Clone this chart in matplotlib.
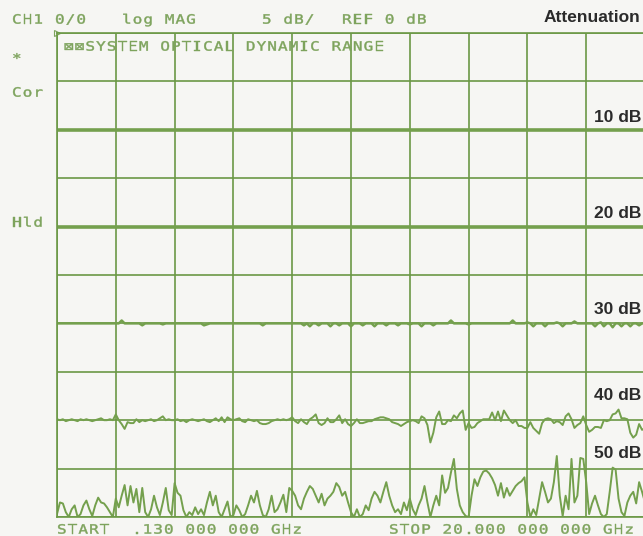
import numpy as np
import matplotlib
matplotlib.use('Agg')
import matplotlib.pyplot as plt
from matplotlib.textpath import TextPath
from matplotlib.patches import PathPatch
from matplotlib.font_manager import FontProperties
from matplotlib.transforms import Affine2D

# analyzer stimulus
START_GHZ = 0.13
STOP_GHZ = 20.0
N_POINTS = 201

# attenuator settings (dB) and their label text
ATTEN_LABELS = ['10 dB', '20 dB', '30 dB', '40 dB', '50 dB']
ATTEN_LABEL_Y = [117, 213, 309, 396, 454]   # pixel rows of labels

# flat traces only need start/stop
TRACE_10DB = [-10.0, -10.0]
TRACE_20DB = [-20.0, -20.0]

# 30 dB trace, 20 points per division
TRACE_30DB = [
    -30.0, -30.0, -30.0, -30.0, -30.0, -30.0, -30.0, -30.0, -30.0, -30.0,
    -30.0, -30.0, -30.0, -30.0, -30.0, -30.0, -30.0, -30.0, -30.0, -30.0,
    -30.0, -30.0, -29.7, -30.0, -30.0, -30.0, -30.0, -30.0, -30.0, -30.2,
    -30.0, -30.0, -30.0, -30.0, -30.0, -30.0, -30.1, -30.0, -30.0, -30.0,
    -30.0, -30.0, -30.0, -30.0, -30.0, -30.0, -30.0, -30.0, -30.0, -30.0,
    -30.2, -30.1, -30.0, -30.0, -30.0, -30.0, -30.0, -30.0, -30.0, -30.0,
    -30.0, -30.0, -30.0, -30.0, -30.0, -30.0, -30.0, -30.0, -30.0, -30.0,
    -30.2, -30.0, -30.0, -30.0, -30.0, -30.0, -30.0, -30.0, -30.0, -30.0,
    -30.0, -30.0, -30.0, -30.0, -30.2, -30.0, -30.3, -30.0, -30.0, -30.2,
    -30.0, -30.0, -30.0, -30.3, -30.0, -30.0, -30.2, -30.0, -30.0, -30.0,
    -30.3, -30.0, -30.0, -30.0, -30.2, -30.0, -30.0, -30.0, -30.3, -30.0,
    -30.0, -30.0, -30.2, -30.0, -30.0, -30.0, -30.2, -30.0, -30.0, -30.0,
    -30.1, -30.0, -30.0, -30.0, -30.3, -30.0, -30.0, -30.0, -30.2, -30.0,
    -30.0, -30.0, -30.0, -30.0, -29.7, -30.0, -30.0, -30.0, -30.0, -30.0,
    -30.1, -30.0, -30.0, -30.0, -30.0, -30.0, -30.0, -30.0, -30.0, -30.0,
    -30.0, -30.0, -30.0, -30.0, -30.0, -29.7, -30.0, -30.0, -30.0, -30.0,
    -29.9, -30.0, -30.3, -30.0, -30.0, -30.0, -30.3, -30.0, -30.0, -30.0,
    -29.9, -30.0, -30.3, -30.0, -30.0, -30.0, -29.8, -30.0, -30.0, -30.0,
    -30.0, -30.0, -30.0, -30.3, -30.0, -29.9, -30.3, -30.0, -30.0, -30.4,
    -30.0, -30.0, -30.3, -30.0, -30.0, -30.3, -30.0, -30.0, -30.2, -30.0,
    -30.0,
]

# 40 dB trace
TRACE_40DB = [
    -39.9, -40.0, -39.9, -40.1, -40.0, -39.9, -40.0, -40.1, -39.9, -40.0,
    -39.9, -40.0, -40.1, -40.0, -39.9, -39.8, -40.0, -40.0, -39.9, -40.0,
    -39.4, -40.0, -40.4, -40.9, -40.2, -40.3, -40.3, -39.9, -40.2, -40.0,
    -40.1, -40.0, -39.9, -40.1, -40.0, -39.8, -39.6, -40.0, -39.9, -40.0,
    -40.0, -39.9, -40.1, -40.0, -40.2, -40.0, -39.9, -40.0, -40.1, -40.0,
    -39.9, -40.1, -40.2, -40.0, -39.8, -40.1, -39.7, -40.2, -39.7, -39.9,
    -40.0, -39.9, -39.8, -40.1, -40.2, -39.9, -40.0, -40.1, -40.0, -40.3,
    -40.4, -40.4, -40.3, -40.1, -40.0, -39.9, -40.0, -39.9, -40.0, -39.9,
    -39.7, -40.1, -40.3, -39.9, -40.2, -40.4, -39.9, -39.7, -39.4, -40.3,
    -40.5, -40.3, -39.8, -40.2, -40.2, -39.9, -39.5, -40.3, -39.9, -40.4,
    -40.6, -40.3, -39.9, -40.3, -40.3, -40.2, -40.1, -40.1, -39.9, -39.8,
    -39.7, -39.7, -39.8, -39.9, -40.2, -40.3, -40.4, -40.6, -40.4, -40.2,
    -40.1, -40.0, -40.1, -40.3, -39.6, -39.8, -40.5, -42.3, -41.3, -39.7,
    -39.1, -40.4, -40.4, -40.0, -40.1, -39.5, -39.8, -39.3, -39.0, -41.0,
    -40.3, -40.8, -40.7, -40.3, -40.1, -39.9, -39.9, -39.9, -39.2, -40.0,
    -39.1, -40.1, -39.0, -39.5, -40.0, -40.3, -40.0, -40.6, -40.6, -40.8,
    -40.8, -40.2, -40.8, -41.1, -41.4, -40.3, -39.9, -39.8, -39.9, -40.3,
    -40.1, -40.2, -40.5, -39.6, -39.3, -39.9, -40.8, -40.5, -40.3, -39.6,
    -40.5, -41.2, -41.0, -40.7, -40.7, -40.8, -40.0, -40.1, -40.0, -39.4,
    -39.3, -38.9, -39.8, -39.8, -39.9, -41.3, -41.8, -41.5, -40.4, -41.0,
    -40.8,
]

# 50 dB trace (floor clipped at bottom of screen)
TRACE_50DB = [
    -49.7, -48.5, -48.6, -49.5, -50.0, -49.2, -48.8, -50.0, -49.7, -48.8,
    -48.3, -49.2, -49.9, -48.8, -48.0, -48.5, -48.6, -49.0, -49.5, -50.0,
    -48.1, -49.0, -47.8, -46.7, -48.8, -46.8, -48.5, -47.1, -49.5, -47.0,
    -49.5, -50.0, -49.2, -47.8, -49.0, -49.8, -48.5, -47.0, -49.3, -49.8,
    -46.5, -47.5, -47.8, -49.3, -50.0, -49.5, -49.8, -49.0, -49.7, -49.2,
    -49.8, -48.5, -47.4, -48.8, -47.8, -49.5, -50.0, -49.2, -48.4, -50.0,
    -49.8, -48.8, -49.3, -50.0, -49.7, -48.8, -47.8, -48.5, -47.3, -48.8,
    -49.8, -50.0, -49.2, -47.8, -49.5, -49.2, -48.5, -47.7, -49.5, -47.0,
    -47.3, -47.8, -48.8, -49.2, -48.1, -47.4, -46.8, -47.1, -47.8, -48.5,
    -47.6, -48.8, -48.1, -47.8, -47.4, -46.5, -46.9, -47.8, -47.4, -48.5,
    -49.5, -50.0, -49.2, -50.0, -49.7, -48.8, -49.3, -48.1, -47.4, -47.8,
    -48.5, -47.4, -46.4, -47.8, -48.8, -49.5, -49.2, -49.7, -48.5, -49.3,
    -48.1, -49.2, -49.8, -48.8, -48.1, -46.8, -48.5, -50.0, -48.8, -47.8,
    -48.8, -45.7, -47.5, -47.0, -45.4, -44.0, -47.1, -48.8, -49.5, -49.9,
    -50.0, -47.8, -46.1, -46.8, -45.9, -45.3, -45.2, -45.5, -46.0, -46.7,
    -47.8, -46.5, -48.0, -47.0, -47.8, -47.3, -46.8, -46.5, -46.3, -45.9,
    -48.5, -50.0, -49.2, -49.8, -48.1, -46.4, -47.4, -48.5, -48.1, -46.4,
    -43.7, -47.8, -49.9, -47.8, -49.2, -44.0, -48.5, -47.8, -43.9, -44.0,
    -46.4, -49.7, -48.6, -47.8, -48.8, -49.7, -50.0, -49.7, -47.4, -44.9,
    -45.1, -48.1, -49.5, -49.9, -48.5, -47.8, -47.4, -48.6, -46.4, -47.4,
    -48.5,
]

# screen text
HEADER = [(12, 'CH1'), (55, '0/0'), (122, 'log MAG'), (262, '5 dB/'), (342, 'REF 0 dB')]
TITLE = '\u22a0\u22a0SYSTEM OPTICAL DYNAMIC RANGE'
STATUS = [(58, '*'), (92, 'Cor'), (222, 'Hld')]
FOOTER = [(57, 'START  .130 000 000 GHz'), (389, 'STOP 20.000 000 000 GHz')]

W, H = 643, 536
GRID_GREEN = '#6b9845'
TRACE_GREEN = '#74a04d'
TEXT_GREEN = '#7da35c'
BG = '#f6f6f3'
MONO = FontProperties(family=['DejaVu Sans Mono', 'DejaVu Sans'])

fig = plt.figure(figsize=(W / 100, H / 100), dpi=100, facecolor=BG)
ax = fig.add_axes([57 / W, (H - 517) / H, 588 / W, 484 / H], facecolor=BG)


def plotter_text(x_px, y_px, s, pitch=10.7, size=12.8, sx=1.25):
    # HP plotter characters: wide glyphs on a fixed pitch
    for k, ch in enumerate(s):
        if ch == ' ':
            continue
        tp = TextPath((0, 0), ch, size=size, prop=MONO)
        tr = Affine2D().scale(sx, 1.0).translate(x_px + k * pitch, H - y_px - 0.36 * size)
        fig.add_artist(PathPatch(tp, transform=tr, fc=TEXT_GREEN, ec=TEXT_GREEN, lw=0.3))


freq = np.linspace(START_GHZ, STOP_GHZ, N_POINTS)
ends = [START_GHZ, STOP_GHZ]

ax.plot(ends, TRACE_10DB, color=TRACE_GREEN, lw=2.6)
ax.plot(ends, TRACE_20DB, color=TRACE_GREEN, lw=2.6)
ax.plot(freq, TRACE_30DB, color=TRACE_GREEN, lw=1.8)
ax.plot(freq, TRACE_40DB, color=TRACE_GREEN, lw=1.4)
ax.plot(freq, TRACE_50DB, color=TRACE_GREEN, lw=1.4)

ax.set_xlim(START_GHZ, STOP_GHZ)
ax.set_ylim(-50, 0)
ax.set_xticks(np.linspace(START_GHZ, STOP_GHZ, 11))
ax.set_yticks(np.arange(-50, 1, 5))
ax.grid(True, color=GRID_GREEN, lw=1.2)
ax.tick_params(length=0, labelbottom=False, labelleft=False)
for sp in ax.spines.values():
    sp.set_color(GRID_GREEN)
    sp.set_linewidth(1.2)

# reference position marker
ax.plot([START_GHZ], [0], marker='>', ms=4, mfc=BG, mec=TEXT_GREEN, mew=0.8,
        clip_on=False)

for x, s in HEADER:
    plotter_text(x, 19, s)
plotter_text(64, 46, TITLE)
for y, s in STATUS:
    plotter_text(12, y, s)
for x, s in FOOTER:
    plotter_text(x, 529, s)

fig.text(640 / W, 1 - 17 / H, 'Attenuation', ha='right', va='center',
         fontsize=12.5, fontweight='bold', color='#2b2b2b', family='Liberation Sans')
for lab, y in zip(ATTEN_LABELS, ATTEN_LABEL_Y):
    fig.text(641 / W, 1 - y / H, lab, ha='right', va='center',
             fontsize=12.5, fontweight='bold', color='#2b2b2b', family='Liberation Sans')

fig.savefig('out.png', dpi=100, facecolor=BG)
